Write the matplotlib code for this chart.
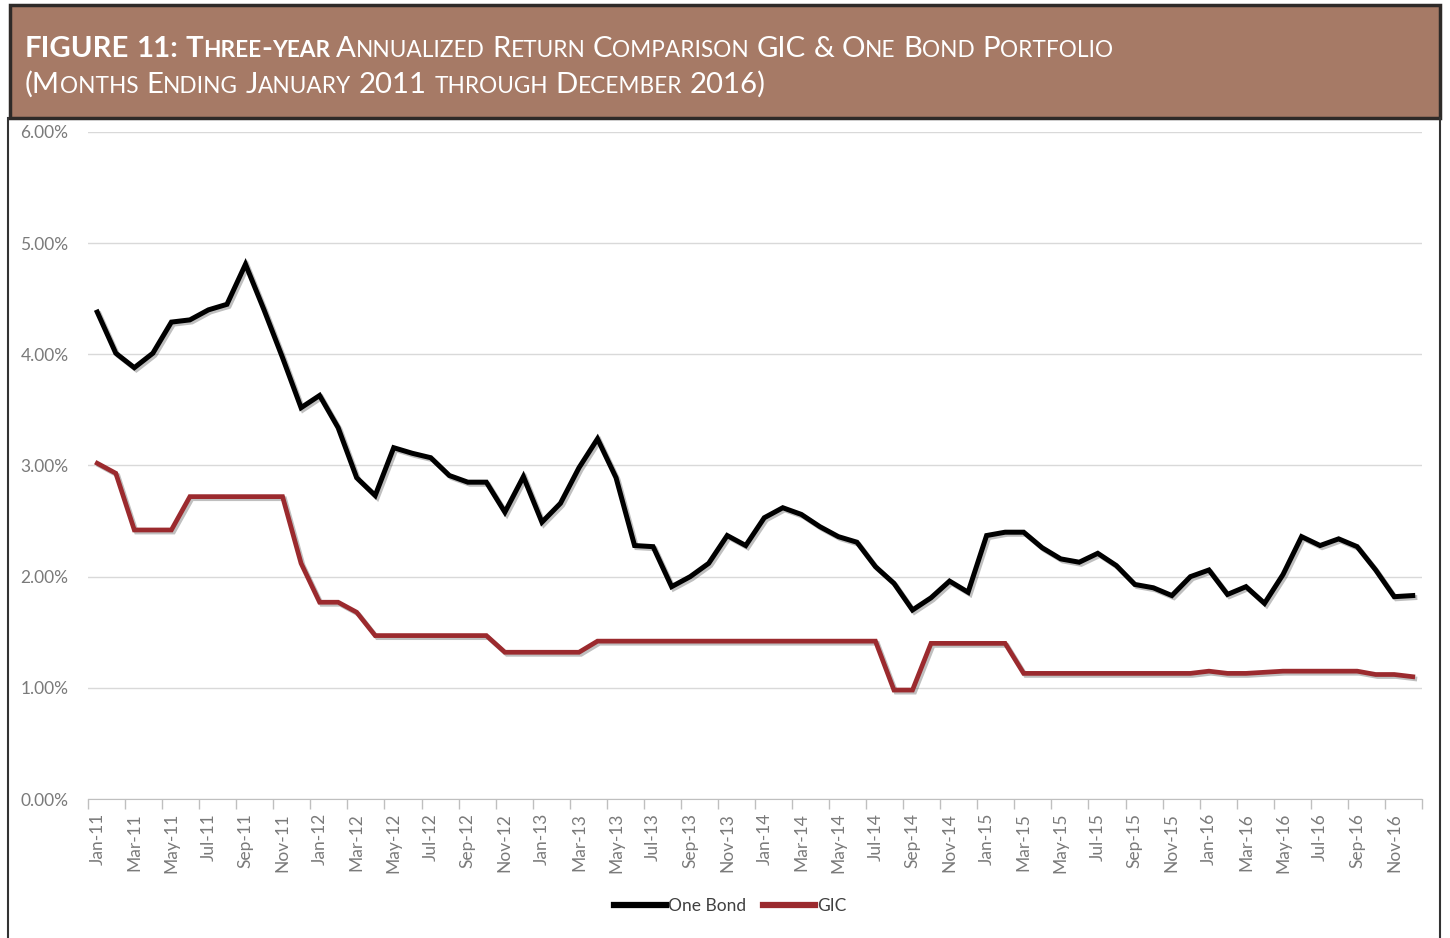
import matplotlib
matplotlib.use("Agg")
import matplotlib.pyplot as plt
import matplotlib.patheffects as pe
from matplotlib.patches import Rectangle
from matplotlib.lines import Line2D
import numpy as np

plt.rcParams["font.family"] = ["Lato", "DejaVu Sans"]

# Monthly data, Jan-11 .. Dec-16 (3-yr annualized return, %)
years = ["11", "12", "13", "14", "15", "16"]
month_names = ["Jan", "Feb", "Mar", "Apr", "May", "Jun",
               "Jul", "Aug", "Sep", "Oct", "Nov", "Dec"]
labels = [f"{m}-{y}" for y in years for m in month_names]

one_bond = [4.38, 4.01, 3.88, 4.01, 4.29, 4.31, 4.40, 4.45, 4.81, 4.40, 3.97, 3.52,
            3.63, 3.34, 2.89, 2.73, 3.16, 3.11, 3.07, 2.91, 2.85, 2.85, 2.58, 2.90,
            2.49, 2.66, 2.98, 3.24, 2.89, 2.28, 2.27, 1.91, 2.00, 2.12, 2.37, 2.28,
            2.53, 2.62, 2.56, 2.45, 2.36, 2.31, 2.09, 1.94, 1.70, 1.81, 1.96, 1.86,
            2.37, 2.40, 2.40, 2.26, 2.16, 2.13, 2.21, 2.10, 1.93, 1.90, 1.83, 2.00,
            2.06, 1.84, 1.91, 1.76, 2.02, 2.36, 2.28, 2.34, 2.27, 2.06, 1.82, 1.83]

gic = [3.02, 2.93, 2.42, 2.42, 2.42, 2.72, 2.72, 2.72, 2.72, 2.72, 2.72, 2.12,
       1.77, 1.77, 1.68, 1.47, 1.47, 1.47, 1.47, 1.47, 1.47, 1.47, 1.32, 1.32,
       1.32, 1.32, 1.32, 1.42, 1.42, 1.42, 1.42, 1.42, 1.42, 1.42, 1.42, 1.42,
       1.42, 1.42, 1.42, 1.42, 1.42, 1.42, 1.42, 0.98, 0.98, 1.40, 1.40, 1.40,
       1.40, 1.40, 1.13, 1.13, 1.13, 1.13, 1.13, 1.13, 1.13, 1.13, 1.13, 1.13,
       1.15, 1.13, 1.13, 1.14, 1.15, 1.15, 1.15, 1.15, 1.15, 1.12, 1.12, 1.10]

y_ticks = [0, 1, 2, 3, 4, 5, 6]

W, H = 1450, 938
fig = plt.figure(figsize=(W / 100, H / 100), dpi=100)

# title box
fig.patches.append(Rectangle((10 / W, 1 - 118 / H), 1430 / W, 113 / H,
                             transform=fig.transFigure, facecolor="#a67a66",
                             edgecolor="#2e2a28", linewidth=2.5))
# frame sides
fig.lines.append(Line2D([8 / W, 8 / W], [0, 1 - 118 / H], transform=fig.transFigure,
                        color="#333333", lw=1.5))
fig.lines.append(Line2D([1440 / W, 1440 / W], [0, 1 - 118 / H], transform=fig.transFigure,
                        color="#333333", lw=1.5))

renderer = fig.canvas.get_renderer()


def small_caps(x, y, text, big, small, weight="normal"):
    # lowercase letters drawn as smaller capitals
    groups = []
    for ch in text:
        kind = "s" if ch == " " else ("l" if ch.islower() else "u")
        if groups and groups[-1][0] == kind:
            groups[-1][1] += ch
        else:
            groups.append([kind, ch])
    a = fig.text(0, 0, "xx", fontsize=big, weight=weight)
    b = fig.text(0, 0, "x x", fontsize=big, weight=weight)
    sp = (b.get_window_extent(renderer).width - a.get_window_extent(renderer).width) / W
    a.remove()
    b.remove()
    for kind, s in groups:
        if kind == "s":
            x += sp * len(s)
            continue
        size = small if kind == "l" else big
        t = fig.text(x, y, s.upper(), fontsize=size, weight=weight, color="white",
                     va="baseline", ha="left")
        x += t.get_window_extent(renderer).width / W
    return x


x = small_caps(25 / W, 1 - 57 / H, "FIGURE 11: Three-year", 21.2, 16.3, "bold")
small_caps(x + 0.004, 1 - 57 / H, "Annualized Return Comparison GIC & One Bond Portfolio", 21.2, 16.3)
small_caps(25 / W, 1 - 93 / H, "(Months Ending January 2011 through December 2016)", 21.2, 16.3)

ax = fig.add_axes([88 / W, 1 - 799 / H, (1422 - 88) / W, (799 - 132) / H])
xs = np.arange(len(labels))

shadow = [pe.SimpleLineShadow(offset=(1.5, -1.5), alpha=0.25), pe.Normal()]
ax.plot(xs, one_bond, color="black", lw=3.6, solid_joinstyle="miter",
        path_effects=shadow, label="One Bond", zorder=3)
ax.plot(xs, gic, color="#9b2a2e", lw=3.4, solid_joinstyle="miter",
        path_effects=shadow, label="GIC", zorder=3)

ax.set_xlim(-0.5, len(labels) - 0.5)
ax.set_ylim(0, 6)
ax.set_yticks(y_ticks)
ax.set_yticklabels([f"{v:.2f}%" for v in y_ticks], color="#7a7a7a", fontsize=12.5)
ax.tick_params(axis="y", length=0, pad=14)
ax.grid(axis="y", color="#d9d9d9", lw=1)
ax.set_axisbelow(True)

ax.set_xticks(xs[::2])
ax.set_xticklabels(labels[::2], rotation=90, color="#7a7a7a", fontsize=12.5)
ax.set_xticks(np.arange(-0.5, len(labels), 2), minor=True)
ax.tick_params(axis="x", which="major", length=0, pad=10)
ax.tick_params(axis="x", which="minor", length=7, color="#bfbfbf", width=1)

for side in ["top", "right", "left"]:
    ax.spines[side].set_visible(False)
ax.spines["bottom"].set_color("#bfbfbf")

leg = fig.legend(loc="center", bbox_to_anchor=(730 / W, 1 - 906 / H), ncol=2,
                 frameon=False, fontsize=12.5, handlelength=3.0, handletextpad=0.1,
                 columnspacing=1.0)
for t in leg.get_texts():
    t.set_color("#404040")
for h in leg.legend_handles:
    h.set_path_effects([])
    h.set_linewidth(4.5)

fig.savefig("out.png", dpi=100)
